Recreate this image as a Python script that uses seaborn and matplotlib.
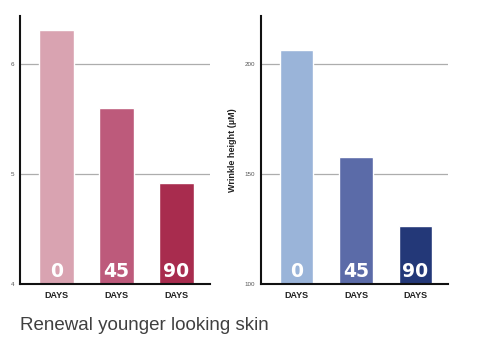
import matplotlib
matplotlib.use("Agg")
import matplotlib.pyplot as plt
import seaborn as sns
import pandas as pd

days = ["0", "45", "90"]
tick_labels = ["DAYS", "DAYS", "DAYS"]
left_values = [6.31, 5.60, 4.92]
right_values = [206.4, 157.7, 126.4]
left_colors = ["#d9a3b1", "#bd5a7b", "#a82c4e"]
right_colors = ["#9ab4d9", "#5b6ba8", "#233878"]
left_yticks = [4, 5, 6]
right_yticks = [100, 150, 200]
title = "Renewal younger looking skin"
ylabel_right = "Wrinkle height (\u00b5M)"

sns.set_theme(style="white")
plt.rcParams['font.family'] = ['Liberation Sans', 'DejaVu Sans']

fig = plt.figure(figsize=(4.8, 3.42), dpi=100)
ax1 = fig.add_axes([20/480, (342-284)/342, 190/480, 268/342])
ax2 = fig.add_axes([261/480, (342-284)/342, 187/480, 268/342])

def draw(ax, values, colors, yticks, ylim, xlim):
    df = pd.DataFrame({"day": days, "value": values})
    sns.barplot(data=df, x="day", y="value", hue="day", palette=colors,
                width=0.57, ax=ax, legend=False, zorder=3, saturation=1)
    ax.set_ylim(*ylim)
    ax.set_xlim(*xlim)
    ax.set_yticks(yticks)
    ax.set_yticklabels([str(t) for t in yticks], fontsize=4.5, color="#555555")
    ax.set_xticks(range(len(days)))
    ax.set_xticklabels(tick_labels, fontsize=6.5, fontweight="bold", color="#222222")
    ax.tick_params(axis="y", direction="in", length=5, width=1.2, color="#222222", pad=4)
    ax.tick_params(axis="x", length=0, pad=5)
    ax.set_xlabel("")
    ax.set_ylabel("")
    for s in ["top", "right"]:
        ax.spines[s].set_visible(False)
    for s in ["left", "bottom"]:
        ax.spines[s].set_color("#111111")
        ax.spines[s].set_linewidth(1.5)
        ax.spines[s].set_zorder(5)
    ax.grid(axis="y", color="#adadad", linewidth=0.9, zorder=0)
    ax.set_axisbelow(True)
    for i, d in enumerate(days):
        ax.text(i, ylim[0] + (ylim[1]-ylim[0])*0.012, d, ha="center", va="bottom",
                color="white", fontsize=13.5, fontweight="bold", zorder=6,
                family=["DejaVu Sans"])

draw(ax1, left_values, left_colors, left_yticks, (4, 6.436), (-0.608, 2.558))
draw(ax2, right_values, right_colors, right_yticks, (100, 221.8), (-0.597, 2.546))
ax2.set_ylabel(ylabel_right, fontsize=6.5, fontweight="bold", color="#222222", labelpad=6)

fig.text(20/480, 1 - 325/342, title, fontsize=13.5, color="#404040", va="center", ha="left")

fig.savefig("out.png", dpi=100)
